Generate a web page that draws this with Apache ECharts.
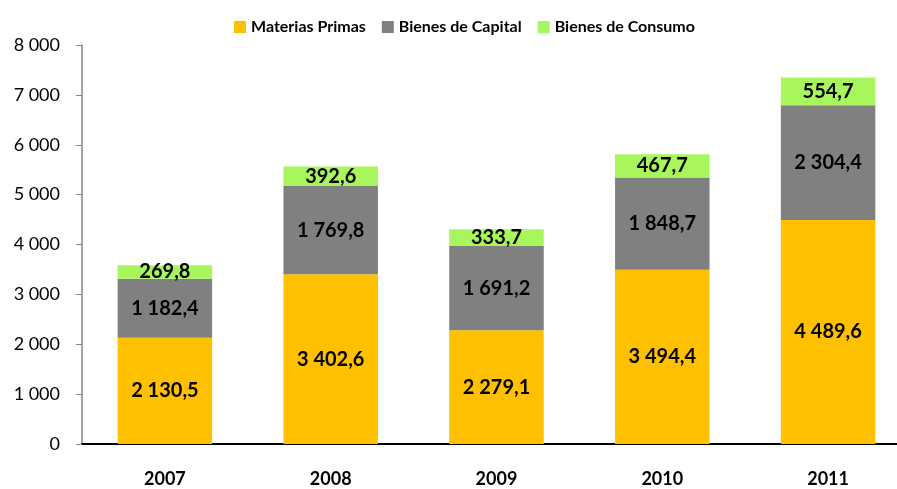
<!DOCTYPE html>
<html>
<head>
<meta charset="utf-8">
<script src="https://cdn.jsdelivr.net/npm/echarts@6/dist/echarts.min.js"></script>
<style>html,body{margin:0;padding:0;background:#fff}#c{width:897px;height:489px}</style>
</head>
<body>
<div id="c"></div>
<script>
var categories = ['2007', '2008', '2009', '2010', '2011'];
var materiasPrimas = [2130.5, 3402.6, 2279.1, 3494.4, 4489.6];
var bienesCapital = [1182.4, 1769.8, 1691.2, 1848.7, 2304.4];
var bienesConsumo = [269.8, 392.6, 333.7, 467.7, 554.7];
var yTicks = [0, 1000, 2000, 3000, 4000, 5000, 6000, 7000, 8000];

function fmt(v) {
  var parts = v.toFixed(1).split('.');
  var intPart = parts[0].replace(/\B(?=(\d{3})+(?!\d))/g, ' ');
  return intPart + ',' + parts[1];
}
function fmtTick(v) {
  return String(v).replace(/\B(?=(\d{3})+(?!\d))/g, ' ');
}

var FONT = 'Lato';
var labelStyle = {
  show: true, position: 'inside', color: '#000', fontFamily: FONT,
  fontWeight: 'bold', fontSize: 20,
  formatter: function (p) { return fmt(p.value); }
};

var chart = echarts.init(document.getElementById('c'), null, {renderer: 'canvas'});
chart.setOption({
  animation: false,
  backgroundColor: '#fff',
  legend: {
    top: 14, left: 229, itemWidth: 12, itemHeight: 12, itemGap: 16,
    icon: 'rect',
    textStyle: {fontFamily: FONT, fontWeight: 'bold', fontSize: 16, color: '#000'},
    data: ['Materias Primas', 'Bienes de Capital', 'Bienes de Consumo']
  },
  grid: {left: 82, width: 829, top: 45, bottom: 45, containLabel: false, outerBoundsMode: 'none'},
  xAxis: {
    type: 'category', data: categories,
    axisLine: {lineStyle: {color: '#000', width: 2}},
    axisTick: {show: false},
    axisLabel: {fontFamily: FONT, fontWeight: 'bold', fontSize: 18, color: '#000', margin: 26}
  },
  yAxis: {
    type: 'value', min: yTicks[0], max: yTicks[yTicks.length - 1], interval: 1000,
    axisLine: {show: true, lineStyle: {color: '#868686', width: 1.5}},
    axisTick: {show: true, length: 6, lineStyle: {color: '#868686', width: 1}},
    splitLine: {show: false},
    axisLabel: {fontFamily: FONT, fontSize: 18, color: '#000', margin: 22, formatter: fmtTick}
  },
  series: [
    {name: 'Materias Primas', type: 'bar', stack: 't', data: materiasPrimas, barWidth: '57%',
     itemStyle: {color: '#FFC000'}, label: labelStyle},
    {name: 'Bienes de Capital', type: 'bar', stack: 't', data: bienesCapital, barWidth: '57%',
     itemStyle: {color: '#808080'}, label: labelStyle},
    {name: 'Bienes de Consumo', type: 'bar', stack: 't', data: bienesConsumo, barWidth: '57%',
     itemStyle: {color: '#A8F65C'}, label: labelStyle}
  ]
});
</script>
</body>
</html>
